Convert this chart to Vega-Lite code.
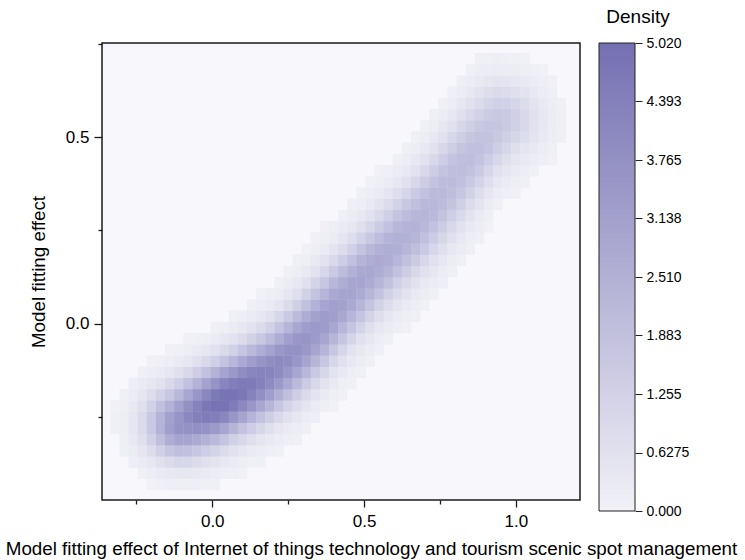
{
"$schema": "https://vega.github.io/schema/vega-lite/v6.json",
"background": "white",
"padding": {"left": 4, "top": 8, "right": 2, "bottom": 2},
"spacing": 19,
"bounds": "flush",
"config": {"font": "Liberation Sans", "view": {"stroke": null}},
"resolve": {"scale": {"x": "independent", "y": "independent"}},
"hconcat": [
{
"width": 478, "height": 457,
"view": {"fill": "#f7f7fc", "stroke": "#1a1a1a", "strokeWidth": 1.5},
"data": {"values": [
{"x":-0.32,"y":-0.28,"density":0.06},{"x":-0.32,"y":-0.25,"density":0.06},{"x":-0.32,"y":-0.22,"density":0.05},
{"x":-0.29,"y":-0.34,"density":0.08},{"x":-0.29,"y":-0.31,"density":0.13},{"x":-0.29,"y":-0.28,"density":0.16},{"x":-0.29,"y":-0.25,"density":0.16},{"x":-0.29,"y":-0.22,"density":0.13},{"x":-0.29,"y":-0.19,"density":0.08},
{"x":-0.26,"y":-0.37,"density":0.10},{"x":-0.26,"y":-0.34,"density":0.20},{"x":-0.26,"y":-0.31,"density":0.32},{"x":-0.26,"y":-0.28,"density":0.41},{"x":-0.26,"y":-0.25,"density":0.41},{"x":-0.26,"y":-0.22,"density":0.32},{"x":-0.26,"y":-0.19,"density":0.20},{"x":-0.26,"y":-0.16,"density":0.10},
{"x":-0.23,"y":-0.40,"density":0.09},{"x":-0.23,"y":-0.37,"density":0.21},{"x":-0.23,"y":-0.34,"density":0.43},{"x":-0.23,"y":-0.31,"density":0.67},{"x":-0.23,"y":-0.28,"density":0.85},{"x":-0.23,"y":-0.25,"density":0.85},{"x":-0.23,"y":-0.22,"density":0.67},{"x":-0.23,"y":-0.19,"density":0.42},{"x":-0.23,"y":-0.16,"density":0.21},{"x":-0.23,"y":-0.13,"density":0.08},
{"x":-0.20,"y":-0.43,"density":0.05},{"x":-0.20,"y":-0.40,"density":0.16},{"x":-0.20,"y":-0.37,"density":0.39},{"x":-0.20,"y":-0.34,"density":0.79},{"x":-0.20,"y":-0.31,"density":1.24},{"x":-0.20,"y":-0.28,"density":1.54},{"x":-0.20,"y":-0.25,"density":1.51},{"x":-0.20,"y":-0.22,"density":1.20},{"x":-0.20,"y":-0.19,"density":0.75},{"x":-0.20,"y":-0.16,"density":0.37},{"x":-0.20,"y":-0.13,"density":0.15},{"x":-0.20,"y":-0.10,"density":0.05},
{"x":-0.17,"y":-0.43,"density":0.08},{"x":-0.17,"y":-0.40,"density":0.25},{"x":-0.17,"y":-0.37,"density":0.62},{"x":-0.17,"y":-0.34,"density":1.22},{"x":-0.17,"y":-0.31,"density":1.91},{"x":-0.17,"y":-0.28,"density":2.38},{"x":-0.17,"y":-0.25,"density":2.34},{"x":-0.17,"y":-0.22,"density":1.85},{"x":-0.17,"y":-0.19,"density":1.15},{"x":-0.17,"y":-0.16,"density":0.57},{"x":-0.17,"y":-0.13,"density":0.25},{"x":-0.17,"y":-0.10,"density":0.09},
{"x":-0.14,"y":-0.43,"density":0.11},{"x":-0.14,"y":-0.40,"density":0.34},{"x":-0.14,"y":-0.37,"density":0.83},{"x":-0.14,"y":-0.34,"density":1.64},{"x":-0.14,"y":-0.31,"density":2.57},{"x":-0.14,"y":-0.28,"density":3.16},{"x":-0.14,"y":-0.25,"density":3.10},{"x":-0.14,"y":-0.22,"density":2.42},{"x":-0.14,"y":-0.19,"density":1.60},{"x":-0.14,"y":-0.16,"density":0.89},{"x":-0.14,"y":-0.13,"density":0.41},{"x":-0.14,"y":-0.10,"density":0.16},{"x":-0.14,"y":-0.07,"density":0.05},
{"x":-0.11,"y":-0.43,"density":0.12},{"x":-0.11,"y":-0.40,"density":0.39},{"x":-0.11,"y":-0.37,"density":0.97},{"x":-0.11,"y":-0.34,"density":1.88},{"x":-0.11,"y":-0.31,"density":2.92},{"x":-0.11,"y":-0.28,"density":3.60},{"x":-0.11,"y":-0.25,"density":3.55},{"x":-0.11,"y":-0.22,"density":3.04},{"x":-0.11,"y":-0.19,"density":2.17},{"x":-0.11,"y":-0.16,"density":1.31},{"x":-0.11,"y":-0.13,"density":0.65},{"x":-0.11,"y":-0.10,"density":0.27},{"x":-0.11,"y":-0.07,"density":0.09},
{"x":-0.08,"y":-0.43,"density":0.13},{"x":-0.08,"y":-0.40,"density":0.39},{"x":-0.08,"y":-0.37,"density":0.97},{"x":-0.08,"y":-0.34,"density":1.86},{"x":-0.08,"y":-0.31,"density":2.88},{"x":-0.08,"y":-0.28,"density":3.69},{"x":-0.08,"y":-0.25,"density":4.04},{"x":-0.08,"y":-0.22,"density":3.71},{"x":-0.08,"y":-0.19,"density":2.83},{"x":-0.08,"y":-0.16,"density":1.80},{"x":-0.08,"y":-0.13,"density":0.95},{"x":-0.08,"y":-0.10,"density":0.42},{"x":-0.08,"y":-0.07,"density":0.16},{"x":-0.08,"y":-0.04,"density":0.05},
{"x":-0.05,"y":-0.43,"density":0.11},{"x":-0.05,"y":-0.40,"density":0.34},{"x":-0.05,"y":-0.37,"density":0.83},{"x":-0.05,"y":-0.34,"density":1.60},{"x":-0.05,"y":-0.31,"density":2.68},{"x":-0.05,"y":-0.28,"density":3.75},{"x":-0.05,"y":-0.25,"density":4.39},{"x":-0.05,"y":-0.22,"density":4.27},{"x":-0.05,"y":-0.19,"density":3.49},{"x":-0.05,"y":-0.16,"density":2.37},{"x":-0.05,"y":-0.13,"density":1.34},{"x":-0.05,"y":-0.10,"density":0.64},{"x":-0.05,"y":-0.07,"density":0.25},{"x":-0.05,"y":-0.04,"density":0.08},
{"x":-0.02,"y":-0.43,"density":0.08},{"x":-0.02,"y":-0.40,"density":0.25},{"x":-0.02,"y":-0.37,"density":0.62},{"x":-0.02,"y":-0.34,"density":1.34},{"x":-0.02,"y":-0.31,"density":2.42},{"x":-0.02,"y":-0.28,"density":3.62},{"x":-0.02,"y":-0.25,"density":4.52},{"x":-0.02,"y":-0.22,"density":4.72},{"x":-0.02,"y":-0.19,"density":4.10},{"x":-0.02,"y":-0.16,"density":2.99},{"x":-0.02,"y":-0.13,"density":1.80},{"x":-0.02,"y":-0.10,"density":0.90},{"x":-0.02,"y":-0.07,"density":0.38},{"x":-0.02,"y":-0.04,"density":0.13},
{"x":0.01,"y":-0.43,"density":0.06},{"x":0.01,"y":-0.40,"density":0.18},{"x":0.01,"y":-0.37,"density":0.49},{"x":0.01,"y":-0.34,"density":1.10},{"x":0.01,"y":-0.31,"density":2.08},{"x":0.01,"y":-0.28,"density":3.33},{"x":0.01,"y":-0.25,"density":4.43},{"x":0.01,"y":-0.22,"density":4.95},{"x":0.01,"y":-0.19,"density":4.62},{"x":0.01,"y":-0.16,"density":3.60},{"x":0.01,"y":-0.13,"density":2.36},{"x":0.01,"y":-0.10,"density":1.29},{"x":0.01,"y":-0.07,"density":0.60},{"x":0.01,"y":-0.04,"density":0.24},{"x":0.01,"y":-0.01,"density":0.08},
{"x":0.04,"y":-0.40,"density":0.11},{"x":0.04,"y":-0.37,"density":0.34},{"x":0.04,"y":-0.34,"density":0.82},{"x":0.04,"y":-0.31,"density":1.67},{"x":0.04,"y":-0.28,"density":2.84},{"x":0.04,"y":-0.25,"density":4.08},{"x":0.04,"y":-0.22,"density":4.88},{"x":0.04,"y":-0.19,"density":4.89},{"x":0.04,"y":-0.16,"density":4.12},{"x":0.04,"y":-0.13,"density":2.92},{"x":0.04,"y":-0.10,"density":1.74},{"x":0.04,"y":-0.07,"density":0.86},{"x":0.04,"y":-0.04,"density":0.37},{"x":0.04,"y":-0.01,"density":0.13},
{"x":0.07,"y":-0.40,"density":0.07},{"x":0.07,"y":-0.37,"density":0.22},{"x":0.07,"y":-0.34,"density":0.57},{"x":0.07,"y":-0.31,"density":1.24},{"x":0.07,"y":-0.28,"density":2.29},{"x":0.07,"y":-0.25,"density":3.52},{"x":0.07,"y":-0.22,"density":4.54},{"x":0.07,"y":-0.19,"density":4.91},{"x":0.07,"y":-0.16,"density":4.46},{"x":0.07,"y":-0.13,"density":3.41},{"x":0.07,"y":-0.10,"density":2.21},{"x":0.07,"y":-0.07,"density":1.21},{"x":0.07,"y":-0.04,"density":0.56},{"x":0.07,"y":-0.01,"density":0.22},{"x":0.07,"y":0.02,"density":0.07},
{"x":0.10,"y":-0.40,"density":0.05},{"x":0.10,"y":-0.37,"density":0.15},{"x":0.10,"y":-0.34,"density":0.40},{"x":0.10,"y":-0.31,"density":0.92},{"x":0.10,"y":-0.28,"density":1.80},{"x":0.10,"y":-0.25,"density":2.91},{"x":0.10,"y":-0.22,"density":4.02},{"x":0.10,"y":-0.19,"density":4.68},{"x":0.10,"y":-0.16,"density":4.63},{"x":0.10,"y":-0.13,"density":3.86},{"x":0.10,"y":-0.10,"density":2.74},{"x":0.10,"y":-0.07,"density":1.64},{"x":0.10,"y":-0.04,"density":0.83},{"x":0.10,"y":-0.01,"density":0.36},{"x":0.10,"y":0.02,"density":0.13},
{"x":0.13,"y":-0.37,"density":0.09},{"x":0.13,"y":-0.34,"density":0.27},{"x":0.13,"y":-0.31,"density":0.66},{"x":0.13,"y":-0.28,"density":1.35},{"x":0.13,"y":-0.25,"density":2.33},{"x":0.13,"y":-0.22,"density":3.43},{"x":0.13,"y":-0.19,"density":4.30},{"x":0.13,"y":-0.16,"density":4.56},{"x":0.13,"y":-0.13,"density":4.13},{"x":0.13,"y":-0.10,"density":3.19},{"x":0.13,"y":-0.07,"density":2.10},{"x":0.13,"y":-0.04,"density":1.17},{"x":0.13,"y":-0.01,"density":0.56},{"x":0.13,"y":0.02,"density":0.23},{"x":0.13,"y":0.05,"density":0.08},
{"x":0.16,"y":-0.37,"density":0.06},{"x":0.16,"y":-0.34,"density":0.18},{"x":0.16,"y":-0.31,"density":0.46},{"x":0.16,"y":-0.28,"density":0.97},{"x":0.16,"y":-0.25,"density":1.81},{"x":0.16,"y":-0.22,"density":2.82},{"x":0.16,"y":-0.19,"density":3.78},{"x":0.16,"y":-0.16,"density":4.33},{"x":0.16,"y":-0.13,"density":4.26},{"x":0.16,"y":-0.10,"density":3.57},{"x":0.16,"y":-0.07,"density":2.57},{"x":0.16,"y":-0.04,"density":1.56},{"x":0.16,"y":-0.01,"density":0.83},{"x":0.16,"y":0.02,"density":0.37},{"x":0.16,"y":0.05,"density":0.15},{"x":0.16,"y":0.08,"density":0.05},
{"x":0.19,"y":-0.34,"density":0.11},{"x":0.19,"y":-0.31,"density":0.30},{"x":0.19,"y":-0.28,"density":0.68},{"x":0.19,"y":-0.25,"density":1.33},{"x":0.19,"y":-0.22,"density":2.23},{"x":0.19,"y":-0.19,"density":3.18},{"x":0.19,"y":-0.16,"density":3.94},{"x":0.19,"y":-0.13,"density":4.19},{"x":0.19,"y":-0.10,"density":3.83},{"x":0.19,"y":-0.07,"density":3.02},{"x":0.19,"y":-0.04,"density":2.05},{"x":0.19,"y":-0.01,"density":1.19},{"x":0.19,"y":0.02,"density":0.61},{"x":0.19,"y":0.05,"density":0.26},{"x":0.19,"y":0.08,"density":0.10},
{"x":0.22,"y":-0.34,"density":0.06},{"x":0.22,"y":-0.31,"density":0.18},{"x":0.22,"y":-0.28,"density":0.43},{"x":0.22,"y":-0.25,"density":0.90},{"x":0.22,"y":-0.22,"density":1.61},{"x":0.22,"y":-0.19,"density":2.50},{"x":0.22,"y":-0.16,"density":3.37},{"x":0.22,"y":-0.13,"density":3.92},{"x":0.22,"y":-0.10,"density":3.95},{"x":0.22,"y":-0.07,"density":3.44},{"x":0.22,"y":-0.04,"density":2.60},{"x":0.22,"y":-0.01,"density":1.70},{"x":0.22,"y":0.02,"density":0.97},{"x":0.22,"y":0.05,"density":0.47},{"x":0.22,"y":0.08,"density":0.20},{"x":0.22,"y":0.11,"density":0.07},
{"x":0.25,"y":-0.31,"density":0.11},{"x":0.25,"y":-0.28,"density":0.27},{"x":0.25,"y":-0.25,"density":0.59},{"x":0.25,"y":-0.22,"density":1.12},{"x":0.25,"y":-0.19,"density":1.87},{"x":0.25,"y":-0.16,"density":2.72},{"x":0.25,"y":-0.13,"density":3.46},{"x":0.25,"y":-0.10,"density":3.83},{"x":0.25,"y":-0.07,"density":3.70},{"x":0.25,"y":-0.04,"density":3.11},{"x":0.25,"y":-0.01,"density":2.28},{"x":0.25,"y":0.02,"density":1.47},{"x":0.25,"y":0.05,"density":0.82},{"x":0.25,"y":0.08,"density":0.40},{"x":0.25,"y":0.11,"density":0.17},{"x":0.25,"y":0.14,"density":0.06},
{"x":0.28,"y":-0.31,"density":0.06},{"x":0.28,"y":-0.28,"density":0.16},{"x":0.28,"y":-0.25,"density":0.36},{"x":0.28,"y":-0.22,"density":0.73},{"x":0.28,"y":-0.19,"density":1.31},{"x":0.28,"y":-0.16,"density":2.07},{"x":0.28,"y":-0.13,"density":2.87},{"x":0.28,"y":-0.10,"density":3.47},{"x":0.28,"y":-0.07,"density":3.68},{"x":0.28,"y":-0.04,"density":3.44},{"x":0.28,"y":-0.01,"density":2.83},{"x":0.28,"y":0.02,"density":2.05},{"x":0.28,"y":0.05,"density":1.29},{"x":0.28,"y":0.08,"density":0.71},{"x":0.28,"y":0.11,"density":0.35},{"x":0.28,"y":0.14,"density":0.15},{"x":0.28,"y":0.17,"density":0.06},
{"x":0.31,"y":-0.28,"density":0.08},{"x":0.31,"y":-0.25,"density":0.20},{"x":0.31,"y":-0.22,"density":0.44},{"x":0.31,"y":-0.19,"density":0.85},{"x":0.31,"y":-0.16,"density":1.44},{"x":0.31,"y":-0.13,"density":2.19},{"x":0.31,"y":-0.10,"density":2.90},{"x":0.31,"y":-0.07,"density":3.41},{"x":0.31,"y":-0.04,"density":3.53},{"x":0.31,"y":-0.01,"density":3.22},{"x":0.31,"y":0.02,"density":2.60},{"x":0.31,"y":0.05,"density":1.84},{"x":0.31,"y":0.08,"density":1.16},{"x":0.31,"y":0.11,"density":0.63},{"x":0.31,"y":0.14,"density":0.31},{"x":0.31,"y":0.17,"density":0.13},{"x":0.31,"y":0.20,"density":0.05},
{"x":0.34,"y":-0.25,"density":0.10},{"x":0.34,"y":-0.22,"density":0.24},{"x":0.34,"y":-0.19,"density":0.50},{"x":0.34,"y":-0.16,"density":0.92},{"x":0.34,"y":-0.13,"density":1.52},{"x":0.34,"y":-0.10,"density":2.23},{"x":0.34,"y":-0.07,"density":2.89},{"x":0.34,"y":-0.04,"density":3.33},{"x":0.34,"y":-0.01,"density":3.38},{"x":0.34,"y":0.02,"density":3.05},{"x":0.34,"y":0.05,"density":2.44},{"x":0.34,"y":0.08,"density":1.74},{"x":0.34,"y":0.11,"density":1.09},{"x":0.34,"y":0.14,"density":0.60},{"x":0.34,"y":0.17,"density":0.30},{"x":0.34,"y":0.20,"density":0.13},{"x":0.34,"y":0.23,"density":0.05},
{"x":0.37,"y":-0.22,"density":0.12},{"x":0.37,"y":-0.19,"density":0.27},{"x":0.37,"y":-0.16,"density":0.54},{"x":0.37,"y":-0.13,"density":0.99},{"x":0.37,"y":-0.10,"density":1.57},{"x":0.37,"y":-0.07,"density":2.27},{"x":0.37,"y":-0.04,"density":2.86},{"x":0.37,"y":-0.01,"density":3.24},{"x":0.37,"y":0.02,"density":3.25},{"x":0.37,"y":0.05,"density":2.89},{"x":0.37,"y":0.08,"density":2.30},{"x":0.37,"y":0.11,"density":1.60},{"x":0.37,"y":0.14,"density":1.00},{"x":0.37,"y":0.17,"density":0.55},{"x":0.37,"y":0.20,"density":0.27},{"x":0.37,"y":0.23,"density":0.12},{"x":0.37,"y":0.26,"density":0.05},
{"x":0.40,"y":-0.22,"density":0.05},{"x":0.40,"y":-0.19,"density":0.13},{"x":0.40,"y":-0.16,"density":0.28},{"x":0.40,"y":-0.13,"density":0.56},{"x":0.40,"y":-0.10,"density":1.00},{"x":0.40,"y":-0.07,"density":1.59},{"x":0.40,"y":-0.04,"density":2.25},{"x":0.40,"y":-0.01,"density":2.82},{"x":0.40,"y":0.02,"density":3.15},{"x":0.40,"y":0.05,"density":3.11},{"x":0.40,"y":0.08,"density":2.73},{"x":0.40,"y":0.11,"density":2.14},{"x":0.40,"y":0.14,"density":1.47},{"x":0.40,"y":0.17,"density":0.91},{"x":0.40,"y":0.20,"density":0.50},{"x":0.40,"y":0.23,"density":0.24},{"x":0.40,"y":0.26,"density":0.10},
{"x":0.43,"y":-0.19,"density":0.05},{"x":0.43,"y":-0.16,"density":0.13},{"x":0.43,"y":-0.13,"density":0.29},{"x":0.43,"y":-0.10,"density":0.58},{"x":0.43,"y":-0.07,"density":1.03},{"x":0.43,"y":-0.04,"density":1.62},{"x":0.43,"y":-0.01,"density":2.25},{"x":0.43,"y":0.02,"density":2.77},{"x":0.43,"y":0.05,"density":3.05},{"x":0.43,"y":0.08,"density":2.98},{"x":0.43,"y":0.11,"density":2.59},{"x":0.43,"y":0.14,"density":2.00},{"x":0.43,"y":0.17,"density":1.36},{"x":0.43,"y":0.20,"density":0.83},{"x":0.43,"y":0.23,"density":0.44},{"x":0.43,"y":0.26,"density":0.22},{"x":0.43,"y":0.29,"density":0.09},
{"x":0.46,"y":-0.16,"density":0.06},{"x":0.46,"y":-0.13,"density":0.14},{"x":0.46,"y":-0.10,"density":0.32},{"x":0.46,"y":-0.07,"density":0.61},{"x":0.46,"y":-0.04,"density":1.07},{"x":0.46,"y":-0.01,"density":1.64},{"x":0.46,"y":0.02,"density":2.26},{"x":0.46,"y":0.05,"density":2.75},{"x":0.46,"y":0.08,"density":2.97},{"x":0.46,"y":0.11,"density":2.85},{"x":0.46,"y":0.14,"density":2.44},{"x":0.46,"y":0.17,"density":1.85},{"x":0.46,"y":0.20,"density":1.25},{"x":0.46,"y":0.23,"density":0.74},{"x":0.46,"y":0.26,"density":0.39},{"x":0.46,"y":0.29,"density":0.18},{"x":0.46,"y":0.32,"density":0.08},
{"x":0.49,"y":-0.13,"density":0.06},{"x":0.49,"y":-0.10,"density":0.15},{"x":0.49,"y":-0.07,"density":0.33},{"x":0.49,"y":-0.04,"density":0.64},{"x":0.49,"y":-0.01,"density":1.09},{"x":0.49,"y":0.02,"density":1.68},{"x":0.49,"y":0.05,"density":2.25},{"x":0.49,"y":0.08,"density":2.71},{"x":0.49,"y":0.11,"density":2.88},{"x":0.49,"y":0.14,"density":2.73},{"x":0.49,"y":0.17,"density":2.29},{"x":0.49,"y":0.20,"density":1.70},{"x":0.49,"y":0.23,"density":1.13},{"x":0.49,"y":0.26,"density":0.66},{"x":0.49,"y":0.29,"density":0.35},{"x":0.49,"y":0.32,"density":0.16},{"x":0.49,"y":0.35,"density":0.07},
{"x":0.52,"y":-0.10,"density":0.07},{"x":0.52,"y":-0.07,"density":0.17},{"x":0.52,"y":-0.04,"density":0.36},{"x":0.52,"y":-0.01,"density":0.68},{"x":0.52,"y":0.02,"density":1.13},{"x":0.52,"y":0.05,"density":1.71},{"x":0.52,"y":0.08,"density":2.25},{"x":0.52,"y":0.11,"density":2.67},{"x":0.52,"y":0.14,"density":2.79},{"x":0.52,"y":0.17,"density":2.59},{"x":0.52,"y":0.20,"density":2.14},{"x":0.52,"y":0.23,"density":1.56},{"x":0.52,"y":0.26,"density":1.02},{"x":0.52,"y":0.29,"density":0.59},{"x":0.52,"y":0.32,"density":0.30},{"x":0.52,"y":0.35,"density":0.14},{"x":0.52,"y":0.38,"density":0.05},
{"x":0.55,"y":-0.07,"density":0.08},{"x":0.55,"y":-0.04,"density":0.19},{"x":0.55,"y":-0.01,"density":0.39},{"x":0.55,"y":0.02,"density":0.72},{"x":0.55,"y":0.05,"density":1.20},{"x":0.55,"y":0.08,"density":1.75},{"x":0.55,"y":0.11,"density":2.28},{"x":0.55,"y":0.14,"density":2.63},{"x":0.55,"y":0.17,"density":2.69},{"x":0.55,"y":0.20,"density":2.45},{"x":0.55,"y":0.23,"density":1.96},{"x":0.55,"y":0.26,"density":1.41},{"x":0.55,"y":0.29,"density":0.90},{"x":0.55,"y":0.32,"density":0.51},{"x":0.55,"y":0.35,"density":0.26},{"x":0.55,"y":0.38,"density":0.11},{"x":0.55,"y":0.41,"density":0.05},
{"x":0.58,"y":-0.04,"density":0.09},{"x":0.58,"y":-0.01,"density":0.21},{"x":0.58,"y":0.02,"density":0.42},{"x":0.58,"y":0.05,"density":0.77},{"x":0.58,"y":0.08,"density":1.24},{"x":0.58,"y":0.11,"density":1.79},{"x":0.58,"y":0.14,"density":2.27},{"x":0.58,"y":0.17,"density":2.58},{"x":0.58,"y":0.20,"density":2.58},{"x":0.58,"y":0.23,"density":2.31},{"x":0.58,"y":0.26,"density":1.82},{"x":0.58,"y":0.29,"density":1.27},{"x":0.58,"y":0.32,"density":0.79},{"x":0.58,"y":0.35,"density":0.44},{"x":0.58,"y":0.38,"density":0.22},{"x":0.58,"y":0.41,"density":0.09},
{"x":0.61,"y":-0.01,"density":0.10},{"x":0.61,"y":0.02,"density":0.23},{"x":0.61,"y":0.05,"density":0.46},{"x":0.61,"y":0.08,"density":0.82},{"x":0.61,"y":0.11,"density":1.29},{"x":0.61,"y":0.14,"density":1.82},{"x":0.61,"y":0.17,"density":2.26},{"x":0.61,"y":0.20,"density":2.51},{"x":0.61,"y":0.23,"density":2.47},{"x":0.61,"y":0.26,"density":2.15},{"x":0.61,"y":0.29,"density":1.66},{"x":0.61,"y":0.32,"density":1.14},{"x":0.61,"y":0.35,"density":0.70},{"x":0.61,"y":0.38,"density":0.38},{"x":0.61,"y":0.41,"density":0.18},{"x":0.61,"y":0.44,"density":0.08},
{"x":0.64,"y":-0.01,"density":0.05},{"x":0.64,"y":0.02,"density":0.12},{"x":0.64,"y":0.05,"density":0.26},{"x":0.64,"y":0.08,"density":0.51},{"x":0.64,"y":0.11,"density":0.88},{"x":0.64,"y":0.14,"density":1.35},{"x":0.64,"y":0.17,"density":1.84},{"x":0.64,"y":0.20,"density":2.25},{"x":0.64,"y":0.23,"density":2.44},{"x":0.64,"y":0.26,"density":2.34},{"x":0.64,"y":0.29,"density":2.01},{"x":0.64,"y":0.32,"density":1.53},{"x":0.64,"y":0.35,"density":1.04},{"x":0.64,"y":0.38,"density":0.63},{"x":0.64,"y":0.41,"density":0.34},{"x":0.64,"y":0.44,"density":0.16},{"x":0.64,"y":0.47,"density":0.07},
{"x":0.67,"y":0.02,"density":0.06},{"x":0.67,"y":0.05,"density":0.15},{"x":0.67,"y":0.08,"density":0.31},{"x":0.67,"y":0.11,"density":0.58},{"x":0.67,"y":0.14,"density":0.95},{"x":0.67,"y":0.17,"density":1.41},{"x":0.67,"y":0.20,"density":1.88},{"x":0.67,"y":0.23,"density":2.23},{"x":0.67,"y":0.26,"density":2.35},{"x":0.67,"y":0.29,"density":2.23},{"x":0.67,"y":0.32,"density":1.90},{"x":0.67,"y":0.35,"density":1.45},{"x":0.67,"y":0.38,"density":0.98},{"x":0.67,"y":0.41,"density":0.60},{"x":0.67,"y":0.44,"density":0.33},{"x":0.67,"y":0.47,"density":0.16},{"x":0.67,"y":0.50,"density":0.07},
{"x":0.70,"y":0.05,"density":0.08},{"x":0.70,"y":0.08,"density":0.17},{"x":0.70,"y":0.11,"density":0.35},{"x":0.70,"y":0.14,"density":0.63},{"x":0.70,"y":0.17,"density":1.00},{"x":0.70,"y":0.20,"density":1.45},{"x":0.70,"y":0.23,"density":1.86},{"x":0.70,"y":0.26,"density":2.18},{"x":0.70,"y":0.29,"density":2.28},{"x":0.70,"y":0.32,"density":2.15},{"x":0.70,"y":0.35,"density":1.81},{"x":0.70,"y":0.38,"density":1.38},{"x":0.70,"y":0.41,"density":0.94},{"x":0.70,"y":0.44,"density":0.58},{"x":0.70,"y":0.47,"density":0.32},{"x":0.70,"y":0.50,"density":0.16},{"x":0.70,"y":0.53,"density":0.07},
{"x":0.73,"y":0.08,"density":0.09},{"x":0.73,"y":0.11,"density":0.19},{"x":0.73,"y":0.14,"density":0.37},{"x":0.73,"y":0.17,"density":0.63},{"x":0.73,"y":0.20,"density":1.00},{"x":0.73,"y":0.23,"density":1.42},{"x":0.73,"y":0.26,"density":1.82},{"x":0.73,"y":0.29,"density":2.10},{"x":0.73,"y":0.32,"density":2.19},{"x":0.73,"y":0.35,"density":2.07},{"x":0.73,"y":0.38,"density":1.75},{"x":0.73,"y":0.41,"density":1.36},{"x":0.73,"y":0.44,"density":0.94},{"x":0.73,"y":0.47,"density":0.59},{"x":0.73,"y":0.50,"density":0.34},{"x":0.73,"y":0.53,"density":0.17},{"x":0.73,"y":0.56,"density":0.08},
{"x":0.76,"y":0.11,"density":0.10},{"x":0.76,"y":0.14,"density":0.20},{"x":0.76,"y":0.17,"density":0.37},{"x":0.76,"y":0.20,"density":0.64},{"x":0.76,"y":0.23,"density":0.99},{"x":0.76,"y":0.26,"density":1.39},{"x":0.76,"y":0.29,"density":1.75},{"x":0.76,"y":0.32,"density":2.02},{"x":0.76,"y":0.35,"density":2.12},{"x":0.76,"y":0.38,"density":2.00},{"x":0.76,"y":0.41,"density":1.73},{"x":0.76,"y":0.44,"density":1.35},{"x":0.76,"y":0.47,"density":0.95},{"x":0.76,"y":0.50,"density":0.61},{"x":0.76,"y":0.53,"density":0.36},{"x":0.76,"y":0.56,"density":0.18},{"x":0.76,"y":0.59,"density":0.09},
{"x":0.79,"y":0.14,"density":0.09},{"x":0.79,"y":0.17,"density":0.19},{"x":0.79,"y":0.20,"density":0.36},{"x":0.79,"y":0.23,"density":0.62},{"x":0.79,"y":0.26,"density":0.95},{"x":0.79,"y":0.29,"density":1.32},{"x":0.79,"y":0.32,"density":1.68},{"x":0.79,"y":0.35,"density":1.94},{"x":0.79,"y":0.38,"density":2.04},{"x":0.79,"y":0.41,"density":1.94},{"x":0.79,"y":0.44,"density":1.69},{"x":0.79,"y":0.47,"density":1.33},{"x":0.79,"y":0.50,"density":0.96},{"x":0.79,"y":0.53,"density":0.62},{"x":0.79,"y":0.56,"density":0.37},{"x":0.79,"y":0.59,"density":0.19},{"x":0.79,"y":0.62,"density":0.09},
{"x":0.82,"y":0.17,"density":0.09},{"x":0.82,"y":0.20,"density":0.19},{"x":0.82,"y":0.23,"density":0.35},{"x":0.82,"y":0.26,"density":0.59},{"x":0.82,"y":0.29,"density":0.90},{"x":0.82,"y":0.32,"density":1.27},{"x":0.82,"y":0.35,"density":1.61},{"x":0.82,"y":0.38,"density":1.86},{"x":0.82,"y":0.41,"density":1.97},{"x":0.82,"y":0.44,"density":1.90},{"x":0.82,"y":0.47,"density":1.66},{"x":0.82,"y":0.50,"density":1.32},{"x":0.82,"y":0.53,"density":0.96},{"x":0.82,"y":0.56,"density":0.63},{"x":0.82,"y":0.59,"density":0.37},{"x":0.82,"y":0.62,"density":0.20},{"x":0.82,"y":0.65,"density":0.10},
{"x":0.85,"y":0.20,"density":0.08},{"x":0.85,"y":0.23,"density":0.16},{"x":0.85,"y":0.26,"density":0.31},{"x":0.85,"y":0.29,"density":0.53},{"x":0.85,"y":0.32,"density":0.83},{"x":0.85,"y":0.35,"density":1.18},{"x":0.85,"y":0.38,"density":1.52},{"x":0.85,"y":0.41,"density":1.79},{"x":0.85,"y":0.44,"density":1.91},{"x":0.85,"y":0.47,"density":1.84},{"x":0.85,"y":0.50,"density":1.61},{"x":0.85,"y":0.53,"density":1.29},{"x":0.85,"y":0.56,"density":0.92},{"x":0.85,"y":0.59,"density":0.59},{"x":0.85,"y":0.62,"density":0.34},{"x":0.85,"y":0.65,"density":0.18},{"x":0.85,"y":0.68,"density":0.08},
{"x":0.88,"y":0.23,"density":0.07},{"x":0.88,"y":0.26,"density":0.14},{"x":0.88,"y":0.29,"density":0.27},{"x":0.88,"y":0.32,"density":0.48},{"x":0.88,"y":0.35,"density":0.76},{"x":0.88,"y":0.38,"density":1.11},{"x":0.88,"y":0.41,"density":1.45},{"x":0.88,"y":0.44,"density":1.71},{"x":0.88,"y":0.47,"density":1.84},{"x":0.88,"y":0.50,"density":1.77},{"x":0.88,"y":0.53,"density":1.53},{"x":0.88,"y":0.56,"density":1.20},{"x":0.88,"y":0.59,"density":0.84},{"x":0.88,"y":0.62,"density":0.54},{"x":0.88,"y":0.65,"density":0.30},{"x":0.88,"y":0.68,"density":0.14},{"x":0.88,"y":0.71,"density":0.06},
{"x":0.91,"y":0.26,"density":0.05},{"x":0.91,"y":0.29,"density":0.12},{"x":0.91,"y":0.32,"density":0.23},{"x":0.91,"y":0.35,"density":0.43},{"x":0.91,"y":0.38,"density":0.70},{"x":0.91,"y":0.41,"density":1.04},{"x":0.91,"y":0.44,"density":1.37},{"x":0.91,"y":0.47,"density":1.65},{"x":0.91,"y":0.50,"density":1.76},{"x":0.91,"y":0.53,"density":1.66},{"x":0.91,"y":0.56,"density":1.41},{"x":0.91,"y":0.59,"density":1.08},{"x":0.91,"y":0.62,"density":0.73},{"x":0.91,"y":0.65,"density":0.42},{"x":0.91,"y":0.68,"density":0.20},{"x":0.91,"y":0.71,"density":0.08},
{"x":0.94,"y":0.32,"density":0.09},{"x":0.94,"y":0.35,"density":0.19},{"x":0.94,"y":0.38,"density":0.38},{"x":0.94,"y":0.41,"density":0.65},{"x":0.94,"y":0.44,"density":0.98},{"x":0.94,"y":0.47,"density":1.32},{"x":0.94,"y":0.50,"density":1.55},{"x":0.94,"y":0.53,"density":1.61},{"x":0.94,"y":0.56,"density":1.50},{"x":0.94,"y":0.59,"density":1.25},{"x":0.94,"y":0.62,"density":0.86},{"x":0.94,"y":0.65,"density":0.50},{"x":0.94,"y":0.68,"density":0.24},{"x":0.94,"y":0.71,"density":0.10},
{"x":0.97,"y":0.35,"density":0.10},{"x":0.97,"y":0.38,"density":0.21},{"x":0.97,"y":0.41,"density":0.40},{"x":0.97,"y":0.44,"density":0.68},{"x":0.97,"y":0.47,"density":0.99},{"x":0.97,"y":0.50,"density":1.28},{"x":0.97,"y":0.53,"density":1.47},{"x":0.97,"y":0.56,"density":1.47},{"x":0.97,"y":0.59,"density":1.20},{"x":0.97,"y":0.62,"density":0.80},{"x":0.97,"y":0.65,"density":0.44},{"x":0.97,"y":0.68,"density":0.19},{"x":0.97,"y":0.71,"density":0.07},
{"x":1.00,"y":0.35,"density":0.05},{"x":1.00,"y":0.38,"density":0.12},{"x":1.00,"y":0.41,"density":0.25},{"x":1.00,"y":0.44,"density":0.46},{"x":1.00,"y":0.47,"density":0.72},{"x":1.00,"y":0.50,"density":1.02},{"x":1.00,"y":0.53,"density":1.25},{"x":1.00,"y":0.56,"density":1.26},{"x":1.00,"y":0.59,"density":1.03},{"x":1.00,"y":0.62,"density":0.69},{"x":1.00,"y":0.65,"density":0.38},{"x":1.00,"y":0.68,"density":0.17},{"x":1.00,"y":0.71,"density":0.06},
{"x":1.03,"y":0.38,"density":0.07},{"x":1.03,"y":0.41,"density":0.15},{"x":1.03,"y":0.44,"density":0.29},{"x":1.03,"y":0.47,"density":0.50},{"x":1.03,"y":0.50,"density":0.76},{"x":1.03,"y":0.53,"density":0.94},{"x":1.03,"y":0.56,"density":0.94},{"x":1.03,"y":0.59,"density":0.78},{"x":1.03,"y":0.62,"density":0.52},{"x":1.03,"y":0.65,"density":0.29},{"x":1.03,"y":0.68,"density":0.13},{"x":1.03,"y":0.71,"density":0.05},
{"x":1.06,"y":0.41,"density":0.08},{"x":1.06,"y":0.44,"density":0.17},{"x":1.06,"y":0.47,"density":0.32},{"x":1.06,"y":0.50,"density":0.50},{"x":1.06,"y":0.53,"density":0.61},{"x":1.06,"y":0.56,"density":0.62},{"x":1.06,"y":0.59,"density":0.51},{"x":1.06,"y":0.62,"density":0.35},{"x":1.06,"y":0.65,"density":0.19},{"x":1.06,"y":0.68,"density":0.08},
{"x":1.09,"y":0.44,"density":0.10},{"x":1.09,"y":0.47,"density":0.19},{"x":1.09,"y":0.50,"density":0.28},{"x":1.09,"y":0.53,"density":0.35},{"x":1.09,"y":0.56,"density":0.36},{"x":1.09,"y":0.59,"density":0.30},{"x":1.09,"y":0.62,"density":0.20},{"x":1.09,"y":0.65,"density":0.11},{"x":1.09,"y":0.68,"density":0.05},
{"x":1.12,"y":0.44,"density":0.05},{"x":1.12,"y":0.47,"density":0.09},{"x":1.12,"y":0.50,"density":0.14},{"x":1.12,"y":0.53,"density":0.18},{"x":1.12,"y":0.56,"density":0.18},{"x":1.12,"y":0.59,"density":0.15},{"x":1.12,"y":0.62,"density":0.10},{"x":1.12,"y":0.65,"density":0.05},
{"x":1.15,"y":0.50,"density":0.06},{"x":1.15,"y":0.53,"density":0.08},{"x":1.15,"y":0.56,"density":0.08},{"x":1.15,"y":0.59,"density":0.07}
]},
"mark": {"type": "point", "shape": "M-1,-1.23H1V1.23H-1Z", "size": 90, "filled": true, "opacity": 1, "strokeWidth": 0, "clip": true},
"encoding": {
"x": {"field": "x", "type": "quantitative", "scale": {"domain": [-0.363, 1.211], "nice": false, "zero": false},
 "axis": {"values": [-0.25, 0, 0.25, 0.5, 0.75, 1], "labelExpr": "datum.value == 0 || datum.value == 0.5 || datum.value == 1 ? format(datum.value, '.1f') : ''",
  "tickSize": {"condition": {"test": "datum.value == 0 || datum.value == 0.5 || datum.value == 1", "value": 7}, "value": 4},
  "tickColor": "#1a1a1a", "tickWidth": 1.3, "domain": false, "grid": false, "labelFontSize": 17, "labelColor": "black", "labelPadding": 6,
  "titleFontSize": 18.8, "titleFontWeight": "normal", "titleColor": "black", "titleX": 269, "titleY": 39, "titleBaseline": "top"},
 "title": "Model fitting effect of Internet of things technology and tourism scenic spot management"},
"y": {"field": "y", "type": "quantitative", "scale": {"domain": [-0.472, 0.752], "nice": false, "zero": false},
 "axis": {"values": [-0.25, 0, 0.25, 0.5, 0.75], "labelExpr": "datum.value == 0 || datum.value == 0.5 ? format(datum.value, '.1f') : ''",
  "tickSize": {"condition": {"test": "datum.value == 0 || datum.value == 0.5", "value": 8}, "value": 4},
  "tickColor": "#1a1a1a", "tickWidth": 1.3, "domain": false, "grid": false, "labelFontSize": 17, "labelColor": "black", "labelPadding": 5,
  "titleFontSize": 18.8, "titleFontWeight": "normal", "titleColor": "black", "titlePadding": 17},
 "title": "Model fitting effect"},
"color": {"field": "density", "type": "quantitative", "scale": {"domain": [0, 5.02], "range": ["#f1f1f7", "#7470b2"]}, "legend": null}
}
},
{
"width": 36, "height": 468,
"title": {"text": "Density", "fontSize": 19, "fontWeight": "normal", "color": "black", "anchor": "middle", "frame": "group", "offset": 9, "dx": 21},
"data": {"values": [{"lo": 0, "hi": 5.02}]},
"mark": {"type": "rect", "stroke": "#222222", "strokeWidth": 1,
 "fill": {"gradient": "linear", "x1": 0, "y1": 1, "x2": 0, "y2": 0, "stops": [{"offset": 0, "color": "#f1f1f7"}, {"offset": 1, "color": "#7470b2"}]}},
"encoding": {
"y": {"field": "lo", "type": "quantitative", "scale": {"domain": [0, 5.02], "nice": false, "zero": false},
 "axis": {"orient": "right", "values": [0, 0.6275, 1.255, 1.883, 2.51, 3.138, 3.765, 4.393, 5.02],
  "labelExpr": "datum.value == 0.6275 ? '0.6275' : format(datum.value, '.3f')",
  "domain": false, "grid": false, "tickSize": 7, "tickColor": "#222222", "tickWidth": 1, "labelFontSize": 14, "labelColor": "black", "labelPadding": 4, "title": null}},
"y2": {"field": "hi"},
"x": {"datum": 0, "type": "quantitative", "scale": {"domain": [0, 1]}, "axis": null},
"x2": {"datum": 1}
}
}
]
}
